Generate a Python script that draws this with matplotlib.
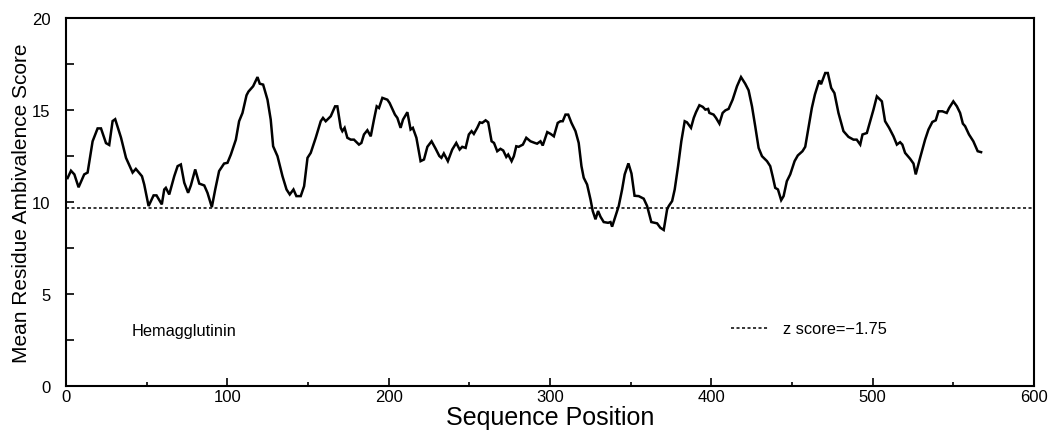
import matplotlib
matplotlib.use("Agg")
from matplotlib import pyplot as plt
from matplotlib.ticker import MultipleLocator

plt.rcParams['font.family'] = ['Liberation Sans', 'DejaVu Sans']

# values
position = [1, 3.1, 5.2, 7.8, 11.3, 13.4, 16.5, 19.6, 21.7, 24.8,
            26.8, 28.9, 30.5, 34.1, 37.2, 41.3, 43.3, 47.1, 48.5, 51.2,
            54.3, 56.1, 59.4, 60.9, 61.9, 64.0, 67.1, 69.2, 71.2, 73.3,
            75.7, 77.4, 80.1, 82.6, 85.7, 87.7, 90.4, 92.5, 94.9, 98,
            100.1, 102.2, 105.3, 107.3, 109.4, 111.9, 113.1, 116, 118.7, 120.1,
            122.2, 124.9, 126.9, 128.4, 131.1, 134.2, 136.7, 138.7, 141, 142.8,
            145.5, 147.6, 149.7, 151.7, 154.8, 157.9, 159.3, 161, 164.1, 166.8,
            168.2, 170.3, 171.3, 172.7, 174.4, 176.5, 178.5, 181.6, 183.1, 184.7,
            186.8, 188.9, 190.9, 192.6, 194, 196.1, 199.2, 200.6, 203.9, 205.4,
            207.4, 208.9, 211.6, 213.6, 215, 217.2, 219.8, 221.9, 224, 226.6,
            229.1, 231.4, 232.7, 234.2, 236.7, 239.4, 241.9, 244, 245.6, 247.7,
            249.7, 251.4, 252.8, 254.9, 256.5, 258, 260.1, 261.7, 263.8, 265.3,
            267.3, 269.3, 271, 272.9, 274.1, 276.2, 277.6, 279.1, 280.6, 283.2,
            285.3, 287.9, 290.6, 292, 294.1, 295.5, 298.3, 300.4, 302.4, 304.8,
            306.5, 307.9, 309.6, 311.3, 313.3, 315.8, 317.8, 319.5, 320.9, 323,
            325.1, 326.5, 328.2, 329.8, 331.3, 333.3, 336, 337.5, 338.5, 340.6,
            342.6, 344.7, 346.3, 348.6, 350.5, 352.4, 355, 358.1, 360.2, 362.8,
            366.4, 368.4, 370.5, 372.6, 373.6, 375.7, 377.3, 379.4, 381.4, 383.5,
            384.9, 387.4, 389.1, 390.5, 392.6, 394.7, 396.3, 398, 398.8, 401.4,
            402.9, 405, 407, 408.7, 410.7, 413.2, 415.9, 418.4, 421, 423.1,
            425.2, 427.2, 429.3, 431.4, 434.5, 436.5, 438, 439.6, 441.3, 443.3,
            444.8, 446.8, 448.9, 451.6, 453.6, 456.5, 458.2, 460.2, 462.3, 464.2,
            466.9, 468.0, 470.6, 472.2, 474.3, 476.3, 478.8, 481.9, 485, 488.1,
            490.1, 492.3, 493.7, 496.4, 498.5, 500.5, 502.6, 505.7, 507.7, 510.2,
            512.9, 515, 517, 518.4, 520.1, 523.2, 525.3, 526.7, 529.4, 532.5,
            534.6, 537, 539.1, 540.8, 543.2, 545.9, 547.4, 550, 552.2, 554.2,
            555.9, 557.3, 559.7, 562.4, 565.1, 567.2]
score = [11.3, 11.7, 11.5, 10.8, 11.5, 11.6, 13.3, 14.0, 14.0, 13.2,
         13.1, 14.4, 14.5, 13.5, 12.4, 11.6, 11.8, 11.4, 10.95, 9.78,
         10.36, 10.36, 9.87, 10.68, 10.77, 10.41, 11.4, 11.95, 12.04, 11.05,
         10.5, 10.9, 11.77, 11.0, 10.9, 10.5, 9.72, 10.68, 11.68, 12.09,
         12.13, 12.58, 13.39, 14.39, 14.84, 15.8, 16.0, 16.29, 16.79, 16.43,
         16.38, 15.56, 14.48, 13.03, 12.49, 11.4, 10.68, 10.41, 10.68, 10.32,
         10.32, 10.86, 12.4, 12.67, 13.49, 14.39, 14.57, 14.39, 14.66, 15.2,
         15.2, 14.03, 13.85, 14.03, 13.49, 13.39, 13.39, 13.12, 13.21, 13.67,
         13.9, 13.57, 14.48, 15.2, 15.11, 15.66, 15.56, 15.38, 14.75, 14.57,
         14.03, 14.48, 14.88, 13.94, 14.03, 13.49, 12.22, 12.31, 13.0, 13.3,
         12.9, 12.5, 12.4, 12.64, 12.22, 12.85, 13.21, 12.85, 13.0, 12.94,
         13.67, 13.85, 13.7, 14.03, 14.33, 14.3, 14.44, 14.33, 13.3, 13.21,
         12.76, 12.89, 12.8, 12.45, 12.58, 12.22, 12.49, 13.03, 13.0, 13.12,
         13.49, 13.3, 13.21, 13.17, 13.3, 13.07, 13.8, 13.7, 13.57, 14.3,
         14.39, 14.39, 14.75, 14.75, 14.3, 13.85, 13.21, 11.95, 11.32, 10.95,
         10.14, 9.51, 9.06, 9.51, 9.2, 8.91, 8.87, 8.91, 8.66, 9.24,
         9.78, 10.68, 11.5, 12.1, 11.55, 10.34, 10.32, 10.18, 9.78, 8.91,
         8.84, 8.6, 8.48, 9.6, 9.78, 10.05, 10.68, 11.95, 13.3, 14.39,
         14.33, 14.03, 14.57, 14.88, 15.26, 15.17, 15.02, 15.06, 14.84, 14.75,
         14.57, 14.26, 14.84, 14.98, 15.06, 15.56, 16.29, 16.79, 16.43, 16.07,
         15.2, 14.12, 12.94, 12.49, 12.22, 11.95, 11.4, 10.77, 10.68, 10.1,
         10.32, 11.13, 11.5, 12.22, 12.53, 12.76, 13.0, 14.03, 15.11, 15.84,
         16.61, 16.4, 17.01, 17.01, 16.2, 15.92, 14.84, 13.85, 13.54, 13.39,
         13.39, 13.12, 13.67, 13.75, 14.39, 15.02, 15.74, 15.47, 14.39, 14.03,
         13.57, 13.12, 13.25, 13.12, 12.67, 12.35, 12.09, 11.5, 12.4, 13.39,
         13.94, 14.35, 14.44, 14.93, 14.93, 14.84, 15.11, 15.47, 15.2, 14.84,
         14.26, 14.12, 13.67, 13.3, 12.76, 12.71]

z_cut = 9.68
z_label = "z score=\u22121.75"
protein = "Hemagglutinin"

fig = plt.figure(figsize=(10.49, 4.31), dpi=100)
ax = fig.add_axes([0.0629, 0.1021, 0.9228, 0.8538])

ax.plot(position, score, color="black", lw=1.8, solid_joinstyle="miter")
ax.axhline(z_cut, color="black", lw=1.1, ls=(0, (2, 1.6)))

# legend drawn by hand like the original
ax.plot([412, 436], [3.15, 3.15], color="black", lw=1.1, ls=(0, (2, 1.6)))
ax.text(444.5, 3.15, z_label, fontsize=11.8, va="center", ha="left")
ax.text(40.8, 3.0, protein, fontsize=11.8, va="center", ha="left")

ax.set_xlim(0, 600)
ax.set_ylim(0, 20)
ax.xaxis.set_major_locator(MultipleLocator(100))
ax.xaxis.set_minor_locator(MultipleLocator(50))
ax.yaxis.set_major_locator(MultipleLocator(5))
ax.yaxis.set_minor_locator(MultipleLocator(2.5))
ax.tick_params(which="both", direction="in", labelsize=12, width=1.2,
               top=False, right=False)
ax.tick_params(axis="y", which="both", length=6, pad=11)
ax.tick_params(axis="x", which="major", length=6, pad=2)
ax.tick_params(axis="x", which="minor", length=3)
for s in ax.spines.values():
    s.set_linewidth(1.5)

ax.set_xlabel("Sequence Position", fontsize=18, labelpad=1)
ax.set_ylabel("Mean Residue Ambivalence Score", fontsize=15, labelpad=1)

fig.savefig("out.png", dpi=100)
